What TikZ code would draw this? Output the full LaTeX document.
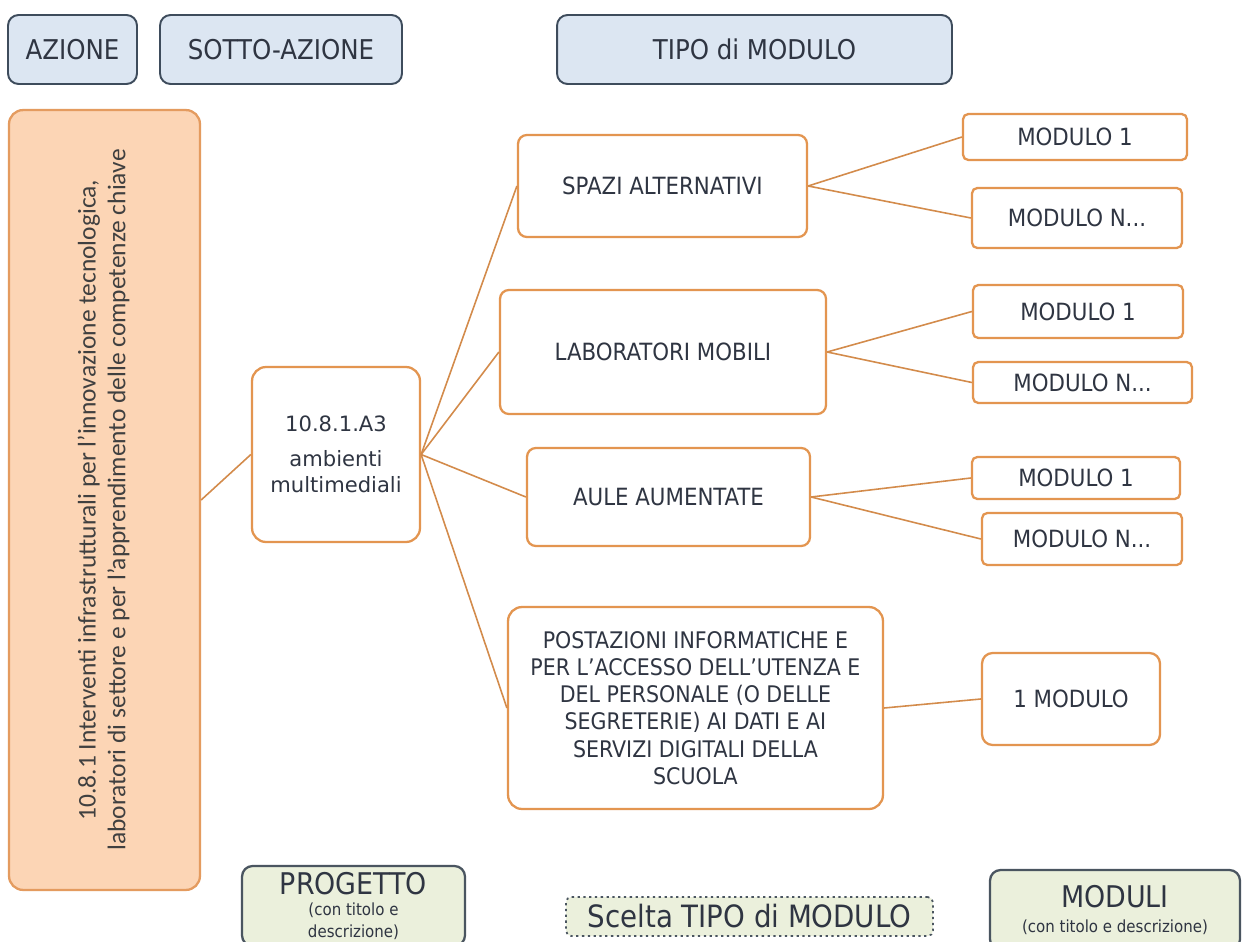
\documentclass[tikz,border=0pt]{standalone}
\usepackage{fontspec}
\usepackage{graphicx}
\setmainfont{DejaVu Sans Condensed}
\newfontfamily\widefont{DejaVu Sans}
\newfontfamily\narrowfont{Carlito}
\usetikzlibrary{positioning}

\definecolor{headfill}{HTML}{DCE6F2}
\definecolor{headline}{HTML}{3E4C5C}
\definecolor{textgray}{HTML}{2F3542}
\definecolor{peach}{HTML}{FCD5B5}
\definecolor{peachline}{HTML}{E49B5F}
\definecolor{treeline}{HTML}{E39550}
\definecolor{linkcol}{HTML}{D38B4B}
\definecolor{greenfill}{HTML}{EBF0DC}
\definecolor{greenline}{HTML}{4A5560}

\begin{document}
\begin{tikzpicture}[x=0.02cm, y=0.02cm,
    header/.style={draw=headline, line width=1.1pt, fill=headfill, rounded corners=6pt, text=textgray, font=\fontsize{15.5}{18}\selectfont, minimum height=1.38cm},
    tree/.style={draw=treeline, line width=1.3pt, fill=white, rounded corners=5pt, text=textgray, align=center, font=\fontsize{13.5}{16}\selectfont},
    modbox/.style={tree, rounded corners=3pt},
    link/.style={draw=linkcol, line width=0.9pt},
    legend/.style={draw=greenline, line width=1.3pt, fill=greenfill, rounded corners=6pt, text=textgray, align=center, inner sep=2pt}]
    \fill[white] (0,0) rectangle (1250,-942);
    \useasboundingbox (0,0) rectangle (1250,-942);

    % Column headers
    \node[header, minimum width=2.58cm] (azione) at (72.5,-49.5) {AZIONE};
    \node[header, minimum width=4.84cm] (sottoaz) at (281,-49.5) {SOTTO-AZIONE};
    \node[header, minimum width=7.9cm] (tipo) at (754.5,-49.5) {TIPO di MODULO};

    % Action and sub-action
    \node[draw=peachline, line width=1.3pt, fill=peach, rounded corners=8pt, minimum width=3.82cm, minimum height=15.6cm, text=black!75] (az) at (104.5,-500)
        {\rotatebox{90}{\narrowfont\fontsize{14.5}{17}\selectfont\begin{tabular}{@{}c@{}}10.8.1 Interventi infrastrutturali per l’innovazione tecnologica,\\laboratori di settore e per l’apprendimento delle competenze chiave\end{tabular}}};
    \node[tree, rounded corners=8pt, minimum width=3.36cm, minimum height=3.5cm, font=\widefont\fontsize{12}{15}\selectfont] (sub) at (336,-454.5) {10.8.1.A3\\[5pt]ambienti\\multimediali};

    % Module types
    \node[tree, minimum width=5.78cm, minimum height=2.04cm] (spazi) at (662.5,-186) {SPAZI ALTERNATIVI};
    \node[tree, minimum width=6.52cm, minimum height=2.48cm] (lab) at (663,-352) {LABORATORI MOBILI};
    \node[tree, minimum width=5.66cm, minimum height=1.96cm] (aule) at (668.5,-497) {AULE AUMENTATE};
    \node[tree, rounded corners=8pt, minimum width=7.5cm, minimum height=4.04cm, font=\fontsize{13}{15.5}\selectfont] (post) at (695.5,-708)
        {POSTAZIONI INFORMATICHE E\\PER L’ACCESSO DELL’UTENZA E\\DEL PERSONALE (O DELLE\\SEGRETERIE) AI DATI E AI\\SERVIZI DIGITALI DELLA\\SCUOLA};

    % Modules
    \node[modbox, minimum width=4.48cm, minimum height=0.92cm] (spazi1) at (1075,-137) {MODULO 1};
    \node[modbox, minimum width=4.2cm, minimum height=1.2cm] (spazin) at (1077,-218) {MODULO N...};
    \node[modbox, minimum width=4.2cm, minimum height=1.06cm] (lab1) at (1078,-311.5) {MODULO 1};
    \node[modbox, minimum width=4.38cm, minimum height=0.82cm] (labn) at (1082.5,-382.5) {MODULO N...};
    \node[modbox, minimum width=4.16cm, minimum height=0.84cm] (aule1) at (1076,-478) {MODULO 1};
    \node[modbox, minimum width=4.0cm, minimum height=1.04cm] (aulen) at (1082,-539) {MODULO N...};
    \node[modbox, rounded corners=6pt, minimum width=3.56cm, minimum height=1.84cm] (post1) at (1071,-699) {1 MODULO};

    % Legend
    \node[legend, minimum width=4.46cm, minimum height=1.6cm] (prog) at (353.5,-906)
        {{\fontsize{17}{18}\selectfont PROGETTO}\\{\fontsize{9.5}{11}\selectfont (con titolo e}\\{\fontsize{9.5}{11}\selectfont descrizione)}};
    \node[legend, dotted, line width=1pt, rounded corners=3pt, minimum width=7.34cm, minimum height=0.78cm, font=\fontsize{17.5}{19}\selectfont] (scelta) at (749.5,-916.5) {Scelta TIPO di MODULO};
    \node[legend, minimum width=5.0cm, minimum height=1.6cm] (moduli) at (1115,-910)
        {{\fontsize{17}{19}\selectfont MODULI}\\[2pt]{\fontsize{9.5}{11.5}\selectfont (con titolo e descrizione)}};

    % Connections
    \draw[link] (az.east) -- (sub.west);
    \draw[link] (sub.east) -- (spazi.west);
    \draw[link] (sub.east) -- (lab.west);
    \draw[link] (sub.east) -- (aule.west);
    \draw[link] (sub.east) -- (post.west);
    \draw[link] (spazi.east) -- (spazi1.west);
    \draw[link] (spazi.east) -- (spazin.west);
    \draw[link] (lab.east) -- (lab1.west);
    \draw[link] (lab.east) -- (labn.west);
    \draw[link] (aule.east) -- (aule1.west);
    \draw[link] (aule.east) -- (aulen.west);
    \draw[link] (post.east) -- (post1.west);
\end{tikzpicture}
\end{document}
